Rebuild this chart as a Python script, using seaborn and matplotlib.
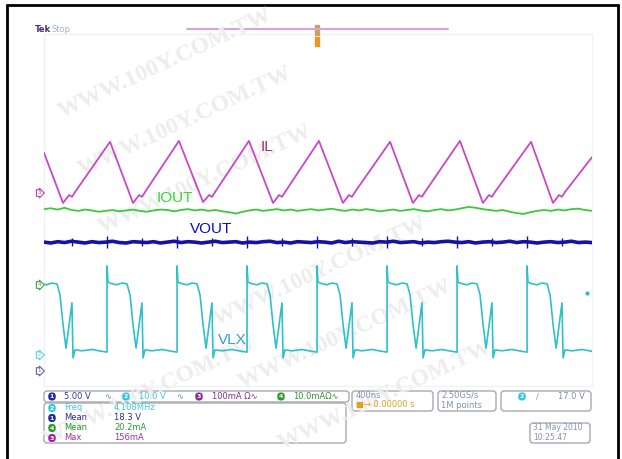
import numpy as np
import matplotlib
matplotlib.use("Agg")
import matplotlib.pyplot as plt
import seaborn as sns
from matplotlib.patches import FancyBboxPatch, Rectangle

# scope screen: 400 ns/div x 10 div -> 0..4 us, vertical 8 div (values in div)
# IL (ch3) triangle: valleys, peaks, and the small kink after each valley
il_valley_us = [0.139, 0.650, 1.161, 1.672, 2.182, 2.693, 3.204, 3.715]
il_valley_div = [4.16, 4.16, 4.18, 4.16, 4.16, 4.16, 4.16, 4.16]
il_peak_us = [0.482, 0.985, 1.496, 2.007, 2.526, 3.036, 3.555]
il_peak_div = [5.55, 5.57, 5.57, 5.57, 5.55, 5.57, 5.55]
il_kink_dt = [0.044, 0.066, 0.088]
il_kink_div = [4.34, 4.30, 4.41]
il_start_div = 5.30
il_end_div = 5.20

# VLX (ch2): rising edge times and the shape of one switching period
vlx_edges_us = [-0.051, 0.460, 0.971, 1.482, 1.993, 2.504, 3.015, 3.526]
vlx_shape_dt = [0.0, 0.0, 0.007, 0.03, 0.07, 0.11, 0.146, 0.168, 0.190,
                0.212, 0.255, 0.263, 0.277, 0.33, 0.40, 0.47]
vlx_shape_div = [0.77, 2.73, 2.36, 2.33, 2.30, 2.34, 2.32, 2.07, 1.39,
                 0.86, 1.89, 0.64, 0.82, 0.80, 0.83, 0.79]
vlx_end_div = 0.80

# IOUT (ch4) and VOUT (ch1), sampled every 50 ns
iout_div = [4.02, 4.04, 4.01, 4.05, 4.00, 3.98, 4.01, 3.99, 3.96, 3.98,
            4.00, 3.97, 3.99, 4.01, 3.98, 3.96, 3.99, 4.01, 4.00, 3.97,
            4.00, 4.02, 3.99, 4.01, 3.98, 4.00, 3.97, 3.95, 3.92, 3.96,
            3.99, 4.01, 3.98, 4.00, 4.02, 3.99, 4.01, 3.98, 4.00, 4.02,
            3.99, 4.01, 4.03, 4.00, 3.98, 4.01, 3.99, 4.02, 4.00, 3.97,
            3.99, 4.01, 3.98, 4.00, 4.02, 3.99, 3.97, 4.00, 4.02, 3.99,
            4.01, 4.04, 4.07, 4.05, 4.02, 4.00, 3.98, 4.00, 3.96, 3.93,
            3.91, 3.95, 3.98, 4.00, 3.98, 4.01, 3.99, 4.02, 4.03, 4.00,
            3.98]
vout_div = [3.27, 3.25, 3.28, 3.26, 3.29, 3.27, 3.25, 3.28, 3.26, 3.27,
            3.29, 3.26, 3.25, 3.28, 3.27, 3.26, 3.28, 3.25, 3.27, 3.29,
            3.26, 3.28, 3.27, 3.25, 3.27, 3.29, 3.26, 3.27, 3.28, 3.25,
            3.27, 3.26, 3.28, 3.29, 3.26, 3.27, 3.25, 3.28, 3.27, 3.26,
            3.28, 3.27, 3.25, 3.29, 3.26, 3.28, 3.27, 3.26, 3.25, 3.28,
            3.27, 3.29, 3.26, 3.27, 3.28, 3.25, 3.27, 3.26, 3.28, 3.29,
            3.27, 3.26, 3.28, 3.25, 3.27, 3.28, 3.26, 3.27, 3.29, 3.26,
            3.28, 3.27, 3.25, 3.27, 3.28, 3.26, 3.27, 3.29, 3.26, 3.27,
            3.26]

labels = {"IL": (1.63, 5.43, "#a0306e"), "IOUT": (0.956, 4.27, "#2edc2e"),
          "VOUT": (1.219, 3.57, "#0a0ac8"), "VLX": (1.372, 1.05, "#3a9fd0")}

# build the traces
il_t, il_v = [0.0], [il_start_div]
for i, tv in enumerate(il_valley_us):
    il_t.append(tv)
    il_v.append(il_valley_div[i])
    for dt, dv in zip(il_kink_dt, il_kink_div):
        il_t.append(tv + dt)
        il_v.append(dv)
    if i < len(il_peak_us):
        il_t.append(il_peak_us[i])
        il_v.append(il_peak_div[i])
il_t.append(4.0)
il_v.append(il_end_div)

vlx_t, vlx_v = [], []
for e in vlx_edges_us:
    vlx_t += [e + dt for dt in vlx_shape_dt]
    vlx_v += vlx_shape_div
vlx_t.append(4.0)
vlx_v.append(vlx_end_div)

samp_us = np.linspace(0, 4.0, len(iout_div))

sns.set_style("white")
plt.rcParams["font.family"] = ["DejaVu Sans"]

fig = plt.figure(figsize=(6.22, 4.59), dpi=100)
bg = fig.add_axes([0, 0, 1, 1])
bg.set_xlim(0, 622)
bg.set_ylim(459, 0)
bg.axis("off")
bg.set_zorder(0)

# watermark
for cx, cy in [(165, 64), (185, 122), (205, 180), (320, 272), (345, 335),
               (385, 396), (150, 392)]:
    bg.text(cx, cy, "WWW.100Y.COM.TW", fontsize=17, family="Liberation Serif",
            weight="bold", color="#ededed", rotation=25, ha="center", va="center")

# outer frame
bg.plot([7, 7], [459, 5], color="black", lw=2)
bg.plot([7, 618], [5, 5], color="black", lw=2)
bg.plot([618, 618], [5, 459], color="black", lw=2)
bg.add_patch(Rectangle((44, 34), 548, 352, fill=False, ec="#eef2f9", lw=1))

# header
bg.text(35, 29, "Tek", fontsize=6, weight="bold", color="#4a2a7a", va="center")
bg.text(52, 29, "Stop", fontsize=6, color="#9fb2cc", va="center")
bg.plot([187, 448], [29, 29], color="#d8a4d8", lw=1.5)
bg.add_patch(Rectangle((315, 25), 4, 10, color="#c8a060"))
bg.add_patch(Rectangle((315, 37), 4, 9, color="#e89a20"))


def badge(x, y, num, color, size=4.5):
    bg.text(x, y, num, fontsize=size, color="white", ha="center", va="center",
            weight="bold",
            bbox=dict(boxstyle="round,pad=0.25,rounding_size=0.6", fc=color, ec="none"))


def marker(x, y, num, color):
    bg.text(x, y, num, fontsize=4, color=color, ha="center", va="center",
            bbox=dict(boxstyle="rarrow,pad=0.15", fc="white", ec=color, lw=0.8))


marker(39, 193, "3", "#c040a0")
marker(39, 285, "4", "#40a040")
marker(39, 355, "2", "#60d0e0")
marker(39, 371, "1", "#6060a0")
bg.plot([587], [293], "o", color="#30c0c8", ms=2)

# status bar boxes
def box(x, y, w, h):
    bg.add_patch(FancyBboxPatch((x, y), w, h, boxstyle="round,pad=0,rounding_size=3",
                                fc="none", ec="#a8a8b0", lw=1))


box(44, 391, 305, 11)
box(44, 403, 302, 40)
box(352, 391, 81, 20)
box(438, 391, 58, 20)
box(501, 391, 90, 20)
box(530, 423, 60, 20)

fs = 6
ry = 396.5
badge(52, ry, "1", "#1a2aa8")
bg.text(64, ry, "5.00 V", fontsize=fs, color="#2a3aa8", va="center")
bg.text(104, ry, "∿", fontsize=fs, color="#7080b0", va="center")
badge(126, ry, "2", "#30c8e0")
bg.text(139, ry, "10.0 V", fontsize=fs, color="#40c8e0", va="center")
bg.text(176, ry, "∿", fontsize=fs, color="#7080b0", va="center")
badge(199, ry, "3", "#8a2a8a")
bg.text(212, ry, "100mA Ω∿", fontsize=fs, color="#8a2a8a", va="center")
badge(281, ry, "4", "#2a9a2a")
bg.text(293, ry, "10.0mAΩ∿", fontsize=fs, color="#2a9a2a", va="center")

bg.text(356, 395, "400ns", fontsize=fs, color="#8090b8", va="center")
bg.text(356, 405, "■→ 0.00000 s", fontsize=fs, color="#e0a020", va="center")
bg.text(441, 395, "2.50GS/s", fontsize=fs, color="#8090b8", va="center")
bg.text(441, 405, "1M points", fontsize=fs, color="#8090b8", va="center")
badge(522, ry, "2", "#30c8e0")
bg.text(536, ry, "∕", fontsize=fs, color="#8090b8", va="center")
bg.text(558, ry, "17.0 V", fontsize=fs, color="#8090b8", va="center")
bg.text(533, 428, "31 May 2010", fontsize=5.5, color="#8090b8", va="center")
bg.text(533, 437, "10:25:47", fontsize=5.5, color="#8090b8", va="center")

meas = [("2", "Freq", "4.108MHz", "#30c8e0", "#40c8e0"),
        ("1", "Mean", "18.3 V", "#1a2aa8", "#2a2a90"),
        ("4", "Mean", "20.2mA", "#2a9a2a", "#2a9a2a"),
        ("3", "Max", "156mA", "#a020a0", "#a030a0")]
for k, (num, name, val, bcol, tcol) in enumerate(meas):
    y = 408 + 10 * k
    badge(52, y, num, bcol)
    bg.text(64, y, name, fontsize=fs, color=tcol, va="center")
    bg.text(114, y, val, fontsize=fs, color=tcol, va="center")

# waveform axes
ax = fig.add_axes([44 / 622, 1 - 386 / 459, 548 / 622, 352 / 459])
ax.set_zorder(1)
ax.set_facecolor("none")

sns.lineplot(x=il_t, y=il_v, ax=ax, color="#c848c8", lw=1.3, sort=False, estimator=None)
sns.lineplot(x=samp_us, y=iout_div, ax=ax, color="#3cc83c", lw=1.3, sort=False, estimator=None)
sns.lineplot(x=samp_us, y=vout_div, ax=ax, color="#1414a0", lw=2.6, sort=False, estimator=None)
sns.lineplot(x=vlx_t, y=vlx_v, ax=ax, color="#30c0c8", lw=1.2, sort=False, estimator=None)

# small switching spikes on VOUT
spikes = [e for e in vlx_edges_us if e > 0]
ax.vlines(spikes, 3.14, 3.40, color="#1414a0", lw=1)
ax.vlines([e + 0.255 for e in vlx_edges_us], 3.18, 3.36, color="#1414a0", lw=1)

for name, (x, y, c) in labels.items():
    ax.text(x, y, name, fontsize=11, family="Liberation Sans", color=c,
            ha="center", va="center")

ax.set_xlim(0, 4.0)
ax.set_ylim(0, 8)
ax.set_xticks([])
ax.set_yticks([])
ax.set_xlabel("")
ax.set_ylabel("")
for s in ax.spines.values():
    s.set_visible(False)

fig.savefig("out.png", dpi=100)
